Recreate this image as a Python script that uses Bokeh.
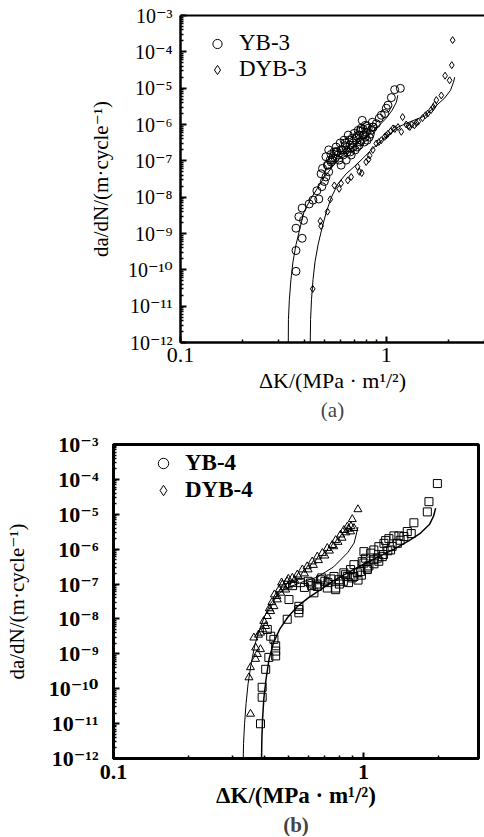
from bokeh.plotting import figure
from bokeh.models import FixedTicker, CustomJSTickFormatter, LogAxis, Legend, LegendItem, Title
from bokeh.embed import file_html
from bokeh.resources import INLINE

FONT = "Liberation Serif, DejaVu Serif"

# ---------------- axis ticks / labels ----------------
y_ticks = [1e-12, 1e-11, 1e-10, 1e-9, 1e-8, 1e-7, 1e-6, 1e-5, 1e-4, 1e-3]
y_tick_labels = ["10⁻¹²", "10⁻¹¹", "10⁻¹⁰", "10⁻⁹", "10⁻⁸", "10⁻⁷", "10⁻⁶", "10⁻⁵", "10⁻⁴", "10⁻³"]
x_ticks = [0.1, 1.0]
x_tick_labels = ["0.1", "1"]
x_minor = [0.2, 0.3, 0.4, 0.5, 0.6, 0.7, 0.8, 0.9, 2.0, 3.0]
y_minor = [k * 10.0 ** e for e in range(-12, -3) for k in range(2, 10)]

y_label = "da/dN/(m·cycle⁻¹)"
x_label = "ΔK/(MPa · m¹/²)"

# ---------------- panel (a) data ----------------
yb3_dk = [0.364, 0.364, 0.390, 0.364, 0.396, 0.376, 0.390, 0.422, 0.440, 0.470,
          0.460, 0.486, 0.500, 0.509, 0.482, 0.525, 0.490, 0.517, 0.545, 0.509,
          0.539, 0.570, 0.525,
          0.551, 0.577, 0.603, 0.631, 0.590, 0.617, 0.645, 0.675, 0.660, 0.690,
          0.714, 0.738, 0.698, 0.730, 0.755, 0.773, 0.798, 0.755, 0.722, 0.675,
          0.638, 0.603, 0.791, 0.817, 0.845, 0.826, 0.865, 0.782, 0.653, 0.624,
          0.597, 0.570, 0.706, 0.738, 0.807, 0.764,
          0.521, 0.539, 0.564, 0.583, 0.610, 0.631, 0.667, 0.683, 0.722, 0.746,
          0.773, 0.807, 0.835, 0.855, 0.638, 0.667, 0.690, 0.557, 0.533, 0.746, 0.791,
          0.860, 0.894, 0.925, 0.946, 0.982, 1.000, 1.019, 1.058, 1.098, 1.170]
yb3_rate = [9.1e-11, 3.4e-10, 7.4e-10, 1.4e-9, 2.3e-9, 2.9e-9, 5.0e-9, 6.5e-9, 8.3e-9, 8.9e-9,
            1.5e-8, 1.95e-8, 2.7e-8, 3.6e-8, 4.4e-8, 5.0e-8, 6.2e-8, 7.6e-8, 1.04e-7, 1.3e-7,
            1.5e-7, 1.8e-7, 2.0e-7,
            1.2e-7, 1.75e-7, 2.0e-7, 2.6e-7, 1.05e-7, 1.45e-7, 1.75e-7, 2.2e-7, 3.7e-7, 3.1e-7,
            4.2e-7, 5.1e-7, 5.7e-7, 6.9e-7, 7.9e-7, 5.1e-7, 6.1e-7, 3.7e-7, 2.4e-7, 1.45e-7,
            1.05e-7, 7.6e-8, 9.5e-7, 7.9e-7, 6.9e-7, 4.5e-7, 8.5e-7, 3.3e-7, 5.1e-7, 3.7e-7,
            3.1e-7, 2.4e-7, 2.0e-7, 2.7e-7, 3.7e-7, 1.3e-6,
            7.6e-8, 9.3e-8, 1.2e-7, 1.45e-7, 2.0e-7, 3.1e-7, 2.7e-7, 4.2e-7, 4.8e-7, 6.5e-7,
            7.4e-7, 9.0e-7, 5.4e-7, 1.15e-6, 2.0e-7, 1.75e-7, 2.4e-7, 1.75e-7, 1.05e-7, 3.3e-7, 4.5e-7,
            8.5e-7, 1.05e-6, 1.5e-6, 1.8e-6, 2.0e-6, 2.8e-6, 3.4e-6, 5.5e-6, 9.1e-6, 9.9e-6]

dyb3_dk = [0.439, 0.482, 0.478, 0.518, 0.534, 0.559, 0.590, 0.603, 0.650, 0.675,
           0.740, 0.760, 0.725, 0.798, 0.820, 0.830, 0.860, 0.894, 0.920, 0.946,
           0.982, 1.000, 1.019, 1.050, 1.079, 1.100, 1.140, 1.183, 1.200, 1.250,
           1.280, 1.300, 1.330, 1.370, 1.400, 1.430, 1.500, 1.550, 1.590, 1.650,
           1.690, 1.720, 1.750, 1.850, 1.930, 2.030, 2.080, 2.100]
dyb3_rate = [3.0e-11, 1.6e-9, 2.2e-9, 4.0e-9, 8.7e-9, 2.1e-8, 1.7e-8, 2.4e-8, 2.9e-8, 3.6e-8,
             5.0e-8, 4.6e-8, 6.9e-8, 9.3e-8, 1.1e-7, 1.4e-7, 2.0e-7, 3.0e-7, 3.3e-7, 3.7e-7,
             4.6e-7, 5.0e-7, 5.6e-7, 6.5e-7, 7.8e-7, 7.5e-7, 8.5e-7, 6.3e-7, 1.6e-6, 1.0e-6,
             9.0e-7, 8.5e-7, 1.0e-6, 9.5e-7, 1.1e-6, 1.2e-6, 1.5e-6, 1.8e-6, 2.0e-6, 2.5e-6,
             3.0e-6, 3.5e-6, 4.7e-6, 6.3e-6, 2.2e-5, 1.65e-5, 4.3e-5, 2.1e-4]

yb3_fit_dk = [0.334, 0.3345, 0.338, 0.344, 0.352, 0.364, 0.379, 0.398, 0.426, 0.461,
              0.498, 0.546, 0.603, 0.675, 0.755, 0.845, 0.925, 1.000, 1.069, 1.119, 1.138]
yb3_fit_rate = [1e-12, 4.3e-12, 1.5e-11, 5.4e-11, 1.66e-10, 4.9e-10, 1.26e-9, 3.9e-9, 8.3e-9, 1.7e-8,
                3.4e-8, 6.8e-8, 1.27e-7, 2.2e-7, 3.7e-7, 6.1e-7, 9.5e-7, 1.5e-6, 2.5e-6, 4.1e-6, 6.4e-6]

dyb3_fit_dk = [0.427, 0.4286, 0.433, 0.4405, 0.4504, 0.466, 0.4848, 0.5097, 0.539, 0.581,
               0.638, 0.698, 0.773, 0.845, 0.978, 1.14, 1.325, 1.532, 1.714, 1.918,
               2.05, 2.12, 2.15]
dyb3_fit_rate = [1e-12, 4.3e-12, 1.5e-11, 5.4e-11, 1.66e-10, 4.9e-10, 1.26e-9, 3.7e-9, 9.5e-9, 2.3e-8,
                 4.4e-8, 6.9e-8, 1.2e-7, 2.0e-7, 4.2e-7, 8.5e-7, 1.23e-6, 1.7e-6, 3.0e-6, 5.3e-6,
                 8.7e-6, 1.45e-5, 2.0e-5]

# ---------------- panel (b) data ----------------
yb4_dk = [0.353, 0.348, 0.353, 0.370, 0.376, 0.387, 0.364, 0.387, 0.406, 0.399,
          0.412, 0.425, 0.438, 0.452, 0.466, 0.488, 0.473, 0.495, 0.519, 0.543,
          0.569, 0.595, 0.623, 0.653, 0.684, 0.716, 0.749, 0.773, 0.809, 0.834,
          0.861, 0.887, 0.915, 0.901, 0.949,
          0.440, 0.460, 0.480, 0.500, 0.470, 0.520, 0.450, 0.430, 0.420, 0.500,
          0.530, 0.550, 0.580, 0.600, 0.630, 0.660, 0.700, 0.730, 0.760, 0.790,
          0.820, 0.850, 0.870, 0.890, 0.380, 0.395, 0.370]
yb4_rate = [1.9e-11, 2.1e-10, 4.1e-10, 7.1e-10, 9.8e-10, 1.35e-9, 2.9e-9, 4.0e-9, 6.2e-9, 8.7e-9,
            1.2e-8, 1.66e-8, 2.3e-8, 3.6e-8, 5.6e-8, 6.9e-8, 9.6e-8, 1.2e-7, 1.5e-7, 1.85e-7,
            2.6e-7, 3.2e-7, 4.4e-7, 6.1e-7, 7.7e-7, 1.07e-6, 1.3e-6, 1.8e-6, 2.6e-6, 3.5e-6,
            4.4e-6, 3.2e-6, 4.0e-6, 7.2e-6, 1.38e-5,
            5.0e-8, 7.0e-8, 8.0e-8, 9.0e-8, 1.1e-7, 1.0e-7, 4.5e-8, 3.0e-8, 2.0e-8, 1.4e-7,
            1.3e-7, 1.6e-7, 2.0e-7, 2.6e-7, 3.5e-7, 4.8e-7, 6.5e-7, 9.0e-7, 1.2e-6, 1.6e-6,
            2.1e-6, 3.0e-6, 3.8e-6, 4.5e-6, 3.5e-9, 5.0e-9, 1.5e-9]

dyb4_dk = [0.387, 0.393, 0.393, 0.406, 0.418, 0.445, 0.445, 0.445, 0.438, 0.425,
           0.412, 0.495, 0.551, 0.551, 0.551, 0.503, 0.633, 0.653, 0.716, 0.773,
           0.614, 0.673, 0.761, 0.847, 0.915, 0.973, 1.035, 1.003, 1.099, 1.188,
           1.282, 1.364, 1.449, 1.495,
           1.972, 1.825, 1.798, 1.589, 1.384, 1.322, 1.262, 1.225, 1.206, 1.151,
           1.099, 1.067, 1.003, 1.019, 1.134, 1.035, 0.988, 0.915, 0.887, 0.861,
           0.834, 0.797, 0.773, 0.944,
           0.520, 0.560, 0.600, 0.650, 0.700, 0.580, 0.620, 0.680, 0.720, 0.740,
           0.800, 0.830, 0.900, 0.950, 0.870, 0.980, 1.050, 1.100, 1.150, 1.200,
           1.250, 1.300, 1.400, 1.550]
dyb4_rate = [9.9e-12, 5.7e-11, 1.1e-10, 3.6e-10, 7.9e-10, 8.7e-10, 1.2e-9, 1.7e-9, 2.6e-9, 3.2e-9,
             5.0e-9, 9.8e-9, 1.5e-8, 1.86e-8, 2.3e-8, 3.6e-8, 5.6e-8, 8.5e-8, 7.7e-8, 6.9e-8,
             1.07e-7, 1.33e-7, 1.65e-7, 1.85e-7, 1.65e-7, 2.3e-7, 2.6e-7, 4.0e-7, 5.0e-7, 6.1e-7,
             9.5e-7, 1.47e-6, 2.3e-6, 3.2e-6,
             7.6e-5, 2.3e-5, 1.17e-5, 5.7e-6, 2.4e-6, 2.4e-6, 2.0e-6, 1.76e-6, 1.47e-6, 1.18e-6,
             9.5e-7, 7.7e-7, 8.5e-7, 5.5e-7, 5.5e-7, 2.9e-7, 4.4e-7, 3.6e-7, 2.6e-7, 1.65e-7,
             2.1e-7, 1.33e-7, 7.7e-8, 2.1e-7,
             9.0e-8, 1.1e-7, 1.2e-7, 1.0e-7, 1.2e-7, 8.0e-8, 9.0e-8, 1.5e-7, 1.1e-7, 1.4e-7,
             1.0e-7, 1.2e-7, 1.5e-7, 1.3e-7, 1.1e-7, 1.8e-7, 3.3e-7, 3.8e-7, 4.5e-7, 7.0e-7,
             9.0e-7, 1.2e-6, 1.8e-6, 2.8e-6]

yb4_fit_dk = [0.3302, 0.3311, 0.3342, 0.3388, 0.3451, 0.3548, 0.3681, 0.3837, 0.4018, 0.4246,
              0.4529, 0.4875, 0.5598, 0.6546, 0.7586, 0.863, 0.9162, 0.9376, 0.949]
yb4_fit_rate = [1e-12, 2.7e-12, 9.9e-12, 3.7e-11, 1.36e-10, 5.1e-10, 1.9e-9, 5.0e-9, 1.18e-8, 2.8e-8,
                5.0e-8, 7.4e-8, 1.1e-7, 1.6e-7, 3.1e-7, 7.9e-7, 1.5e-6, 2.9e-6, 4.3e-6]

dyb4_fit_dk = [0.3908, 0.3919, 0.3945, 0.399, 0.4074, 0.4188, 0.4365, 0.4613, 0.4966, 0.5445,
               0.6026, 0.673, 0.7586, 0.863, 0.9908, 1.148, 1.33, 1.514, 1.69, 1.837,
               1.905, 1.941]
dyb4_fit_rate = [1e-12, 3.7e-12, 1.37e-11, 5.1e-11, 1.9e-10, 7.1e-10, 2.1e-9, 5.0e-9, 1.1e-8, 2.3e-8,
                 4.1e-8, 6.9e-8, 1.26e-7, 2.1e-7, 3.6e-7, 6.0e-7, 1.02e-6, 1.73e-6, 2.9e-6, 5.2e-6,
                 8.9e-6, 1.5e-5]

# legend-only proxy marks for panel (b) (placed outside the visible range)
legend_proxy_dk = [0.01]
legend_proxy_rate = [1e-20]

JS_FMT = """
const lt = Math.log10(tick);
for (let i = 0; i < vals.length; i++) {
  if (Math.abs(Math.log10(vals[i]) - lt) < 1e-6) { return labs[i]; }
}
return "";
"""


def style_axes(p, ytick_fs, xtick_fs, label_fs, xlabel_fs, bold, ylab_standoff, ytick_standoff,
               xtick_standoff, xlab_standoff, axis_w, xlabel_bold):
    style = "bold" if bold else "normal"
    xa = p.xaxis[0]
    ya = p.yaxis[0]
    xa.ticker = FixedTicker(ticks=x_ticks, minor_ticks=x_minor)
    xa.formatter = CustomJSTickFormatter(args=dict(vals=x_ticks, labs=x_tick_labels), code=JS_FMT)
    ya.ticker = FixedTicker(ticks=y_ticks, minor_ticks=y_minor)
    ya.formatter = CustomJSTickFormatter(args=dict(vals=y_ticks, labs=y_tick_labels), code=JS_FMT)
    for ax in (xa, ya):
        ax.axis_line_color = "black"
        ax.axis_line_width = axis_w
        ax.major_tick_in = 6
        ax.major_tick_out = 0
        ax.minor_tick_in = 3
        ax.minor_tick_out = 0
        ax.major_tick_line_color = "black"
        ax.minor_tick_line_color = "black"
        ax.major_tick_line_width = 2
        ax.minor_tick_line_width = 1.5
        ax.major_label_text_font = FONT
        ax.major_label_text_font_style = style
        ax.major_label_text_color = "black"
        ax.axis_label_text_font = FONT
        ax.axis_label_text_color = "black"
    ya.major_label_text_font_size = ytick_fs
    xa.major_label_text_font_size = xtick_fs
    ya.axis_label_text_font_size = label_fs
    xa.axis_label_text_font_size = xlabel_fs
    xa.axis_label = x_label
    ya.axis_label = y_label
    xa.axis_label_text_font_style = "bold" if xlabel_bold else "normal"
    ya.axis_label_text_font_style = "normal"
    ya.axis_label_standoff = ylab_standoff
    ya.major_label_standoff = ytick_standoff
    xa.major_label_standoff = xtick_standoff
    xa.axis_label_standoff = xlab_standoff


# ---------------- figure (a) ----------------
pa = figure(width=484, height=421, x_axis_type="log", y_axis_type="log",
            x_range=(0.1, 3.0), y_range=(1e-12, 1e-3),
            output_backend="svg", toolbar_location=None,
            min_border_left=180, min_border_right=0, min_border_top=15, min_border_bottom=78)
pa.grid.visible = False
pa.outline_line_color = None
pa.background_fill_color = "white"
pa.border_fill_color = "white"
style_axes(pa, "20px", "22px", "21px", "22px", False, 12, 8, 5, 3, 2.5, False)

top_a = LogAxis(ticker=FixedTicker(ticks=[]), axis_line_width=2, axis_line_color="black",
                major_tick_line_color=None, minor_tick_line_color=None)
pa.add_layout(top_a, "above")

pa.line(yb3_fit_dk, yb3_fit_rate, line_color="black", line_width=1)
pa.line(dyb3_fit_dk, dyb3_fit_rate, line_color="black", line_width=1)
ra1 = pa.scatter(yb3_dk, yb3_rate, marker="circle", size=8, line_color="black", line_width=1, fill_color=None)
ra2 = pa.scatter(dyb3_dk, dyb3_rate, marker="diamond", size=7, line_color="black", line_width=1, fill_color=None)

leg_a = Legend(items=[LegendItem(label="YB-3", renderers=[ra1]), LegendItem(label="DYB-3", renderers=[ra2])],
               location="top_left", orientation="vertical",
               glyph_width=44, glyph_height=23, label_height=23, spacing=0, padding=0, margin=15,
               label_standoff=0, label_text_font=FONT, label_text_font_size="23px",
               label_text_color="black",
               border_line_color=None, background_fill_alpha=0)
pa.add_layout(leg_a, "center")
ta = Title(text="(a)", align="center", text_font=FONT, text_font_size="21px", text_font_style="normal",
           standoff=0)
pa.add_layout(ta, "below")

# ---------------- figure (b) ----------------
pb = figure(width=484, height=415, x_axis_type="log", y_axis_type="log",
            x_range=(0.1, 2.88), y_range=(1e-12, 1e-3),
            output_backend="svg", toolbar_location=None,
            min_border_left=113, min_border_right=6, min_border_top=23, min_border_bottom=76)
pb.grid.visible = False
pb.outline_line_color = "black"
pb.outline_line_width = 3
pb.background_fill_color = "white"
pb.border_fill_color = "white"
style_axes(pb, "22px", "22px", "21px", "23px", True, 17, 15, 6, 1, 3, True)

pb.line(yb4_fit_dk, yb4_fit_rate, line_color="black", line_width=1)
pb.line(dyb4_fit_dk, dyb4_fit_rate, line_color="black", line_width=1.5)
pb.scatter(yb4_dk, yb4_rate, marker="triangle", size=8, line_color="black", line_width=1, fill_color=None)
pb.scatter(dyb4_dk, dyb4_rate, marker="square", size=8, line_color="black", line_width=1, fill_color=None)

lb1 = pb.scatter(legend_proxy_dk, legend_proxy_rate, marker="circle", size=10, line_color="black",
                 line_width=1, fill_color=None)
lb2 = pb.scatter(legend_proxy_dk, legend_proxy_rate, marker="diamond", size=10, line_color="black",
                 line_width=1, fill_color=None)
leg_b = Legend(items=[LegendItem(label="YB-4", renderers=[lb1]), LegendItem(label="DYB-4", renderers=[lb2])],
               location=(28, 255), orientation="vertical",
               glyph_width=44, glyph_height=26, label_height=26, spacing=1, padding=0, margin=0,
               label_standoff=0, label_text_font=FONT, label_text_font_size="23px",
               label_text_font_style="bold", label_text_color="black",
               border_line_color=None, background_fill_alpha=0)
pb.add_layout(leg_b, "center")
tb = Title(text="(b)", align="center", text_font=FONT, text_font_size="21px", text_font_style="bold",
           standoff=0)
pb.add_layout(tb, "below")

open("out.html", "w").write(file_html([pa, pb], INLINE))
